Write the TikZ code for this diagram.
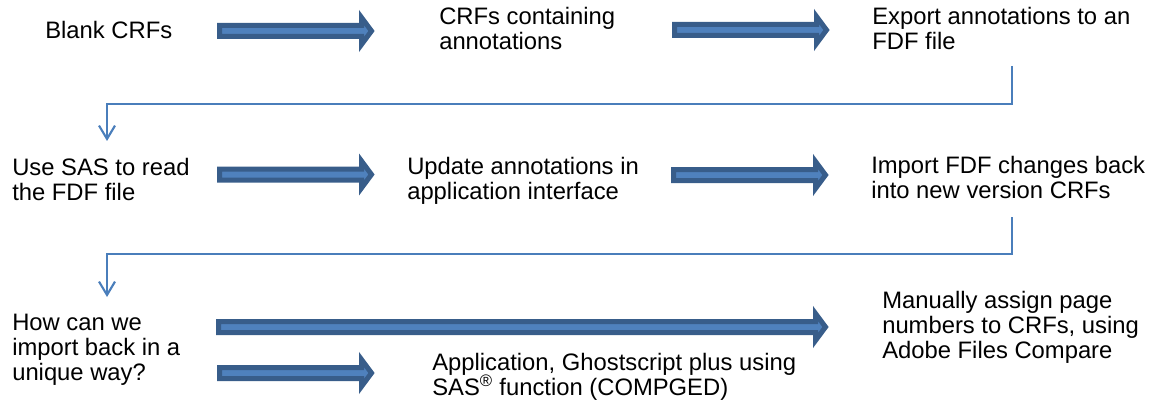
\documentclass[tikz,border=0pt]{standalone}
\usepackage{fontspec}
\setmainfont{Liberation Sans}
\usetikzlibrary{arrows.meta}
\definecolor{arrowdark}{HTML}{385D8A}
\definecolor{arrowfill}{HTML}{4F81BD}
\definecolor{connblue}{HTML}{4A7EBB}
\tikzset{
  lbl/.style={anchor=base west, inner sep=0pt, align=left,
    font=\fontsize{17.85}{18.75}\selectfont},
  blockarr/.style={draw=arrowdark, fill=arrowfill, line width=3.75pt, line join=miter},
  conn/.style={draw=connblue, line width=1.6pt,
    -{Straight Barb[length=10pt,width=12pt,line width=1.6pt]}}
}
\newcommand\blockarrow[3]{%
  \path[blockarr] ({#1+2.5},{#3-5.5}) -- ({#2-13.5},{#3-5.5}) -- ({#2-13.5},{#3-13.5})
    -- ({#2-3.5},{#3}) -- ({#2-13.5},{#3+13.5}) -- ({#2-13.5},{#3+5.5})
    -- ({#1+2.5},{#3+5.5}) -- cycle;}
\begin{document}
\begin{tikzpicture}[x=0.75pt,y=-0.75pt]
\useasboundingbox (0,0) rectangle (1155,406);
% text nodes (anchor = baseline of last line)
\node[lbl] (blank) at (45,39) {Blank CRFs};
\node[lbl] (crfs) at (439,50) {CRFs containing\\annotations};
\node[lbl] (exp) at (872,50) {Export annotations to an\\FDF file};
\node[lbl] (use) at (12,200) {Use SAS to read\\the FDF file};
\node[lbl] (upd) at (407,199) {Update annotations in\\application interface};
\node[lbl] (imp) at (871,198) {Import FDF changes back\\into new version CRFs};
\node[lbl] (how) at (12,380) {How can we\\import back in a\\unique way?};
\node[lbl] (man) at (882,358) {Manually assign page\\numbers to CRFs, using\\Adobe Files Compare};
\node[lbl] (app) at (432,395) {Application, Ghostscript plus using\\SAS\textsuperscript{\textregistered} function (COMPGED)};
% block arrows
\blockarrow{217}{375}{31}
\blockarrow{672}{830}{30}
\blockarrow{217}{375}{174.5}
\blockarrow{671}{829}{175}
\blockarrow{216}{829}{327}
\blockarrow{217}{375}{373}
% connectors
\coordinate (k1a) at (1012,66);
\coordinate (k1m) at (1012,104);
\coordinate (k1b) at (107,141);
\draw[conn] (k1a) -- (k1m) -| (k1b);
\coordinate (k2a) at (1012,217);
\coordinate (k2m) at (1012,254);
\coordinate (k2b) at (107,297);
\draw[conn] (k2a) -- (k2m) -| (k2b);
\end{tikzpicture}
\end{document}
